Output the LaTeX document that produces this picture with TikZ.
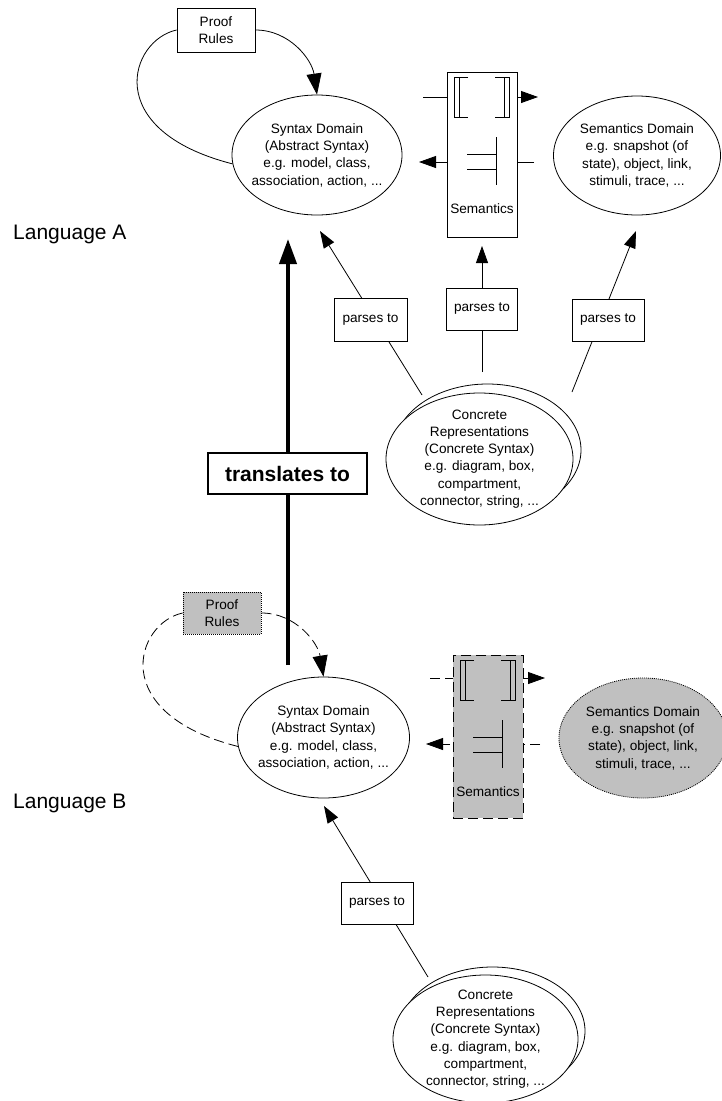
\documentclass[tikz,border=0pt]{standalone}
\usepackage{fontspec}
\setmainfont{Liberation Sans}
\usetikzlibrary{arrows.meta,shapes.geometric,backgrounds}
\definecolor{shade}{HTML}{C0C0C0}
\begin{document}
\begin{tikzpicture}[x=1pt,y=-1pt,
  every node/.style={font=\fontsize{13.6}{17.3}\selectfont, align=center},
  ln/.style={line width=0.8pt},
  arr/.style={ln,-{Triangle[length=17pt,width=12pt]}},
  parr/.style={ln,-{Triangle[length=21pt,width=15pt]}},
  tarr/.style={line width=4pt,-{Triangle[length=25pt,width=17pt]}},
  lbox/.style={draw, line width=0.8pt, fill=white, inner sep=0pt},
  ell/.style={draw, ellipse, line width=0.8pt, fill=white, inner sep=-8pt},
  dsh/.style={dash pattern=on 10pt off 5pt},
  dtt/.style={dash pattern=on 1pt off 1pt},
  lang/.style={font=\fontsize{21}{24}\selectfont, anchor=base west, inner sep=0pt}
]
\useasboundingbox (0,0) rectangle (721,1101);

% free connector ends
\coordinate (thkS) at (288,665);
\coordinate (thkT) at (288,239);
\coordinate (pA1e) at (422,395);
\coordinate (pA1t) at (320,231);
\coordinate (pA2e) at (482,372);
\coordinate (pA2t) at (482,246);
\coordinate (pA3e) at (572,392);
\coordinate (pA3t) at (636,231);
\coordinate (sAt1) at (423,97);
\coordinate (sAt2) at (538,97);
\coordinate (sAb1) at (534,162);
\coordinate (sAb2) at (419,162);
\coordinate (pBe) at (428,977);
\coordinate (pBt) at (324,806);
\coordinate (sBt1) at (430,678);
\coordinate (sBt2) at (545,678);
\coordinate (sBb1) at (540,744);
\coordinate (sBb2) at (426,744);

% ---------- Language A ----------
\node[lang] (langA) at (13,239.3) {Language A};
\node[lbox, minimum width=78pt, minimum height=44pt] (prA) at (216,30) {Proof\\Rules};
\node[ell, minimum width=170pt, minimum height=120pt] (synA) at (317,155)
  {Syntax Domain\\(Abstract Syntax)\\e.g. model, class,\\association, action, ...};
\node[lbox, minimum width=70pt, minimum height=165pt] (semA) at (482,154.5) {};
\node (semAtxt) at (482,209) {Semantics};
\node[ell, minimum width=167pt, minimum height=119pt] (sdA) at (637,155.5)
  {Semantics Domain\\e.g. snapshot (of\\state), object, link,\\stimuli, trace, ...};
\node[ell, minimum width=187pt, minimum height=132pt] (cAback) at (487.5,450) {};
\node[ell, minimum width=187pt, minimum height=132pt] (cA) at (479.5,459)
  {Concrete\\Representations\\(Concrete Syntax)\\e.g. diagram, box,\\compartment,\\connector, string, ...};
\node[lbox, minimum width=73pt, minimum height=43pt] (pA1) at (370.5,320) {parses to};
\node[lbox, minimum width=71pt, minimum height=42pt] (pA2) at (482,309) {parses to};
\node[lbox, minimum width=72pt, minimum height=42pt] (pA3) at (608,320) {parses to};

\node[lbox, line width=1.5pt, minimum width=159pt, minimum height=41pt,
  font=\fontsize{21}{24}\selectfont\bfseries] (trans) at (287.5,473.5) {translates to};

% semantic brackets and turnstile (A)
\begin{scope}
  \draw[ln] (468,77) -- (454,77) -- (454,117) -- (468,117);
  \draw[ln] (459,77) -- (459,117);
  \draw[ln] (495,77) -- (509,77) -- (509,117) -- (495,117);
  \draw[ln] (504,77) -- (504,117);
  \draw[ln] (496,137) -- (496,185);
  \draw[ln] (467,154) -- (496,154);
  \draw[ln] (467,169) -- (496,169);
\end{scope}

\draw[ln] (prA.west) .. controls (130,40) and (100,130) .. (synA.186);
\draw[parr] (prA.east) .. controls (290,30) and (312,60) .. (synA.north);

% ---------- Language B ----------
\node[lang] (langB) at (13,808) {Language B};
\node[lbox, fill=shade, dtt, minimum width=78pt, minimum height=42pt] (prB) at (222,613) {Proof\\Rules};
\node[ell, minimum width=172pt, minimum height=121pt] (synB) at (323.5,737.5)
  {Syntax Domain\\(Abstract Syntax)\\e.g. model, class,\\association, action, ...};
\node[lbox, fill=shade, dsh, minimum width=70pt, minimum height=163pt] (semB) at (488,736.5) {};
\node (semBtxt) at (488,792) {Semantics};
\node[ell, fill=shade, dtt, minimum width=168pt, minimum height=120pt] (sdB) at (643,738)
  {Semantics Domain\\e.g. snapshot (of\\state), object, link,\\stimuli, trace, ...};
\node[ell, minimum width=185pt, minimum height=128pt] (cBback) at (492.5,1031) {};
\node[ell, minimum width=185pt, minimum height=128pt] (cB) at (485.5,1039)
  {Concrete\\Representations\\(Concrete Syntax)\\e.g. diagram, box,\\compartment,\\connector, string, ...};
\node[lbox, minimum width=72pt, minimum height=42pt] (pB) at (377,903) {parses to};

\begin{scope}[shift={(6,583)}]
  \draw[ln] (468,77) -- (454,77) -- (454,117) -- (468,117);
  \draw[ln] (459,77) -- (459,117);
  \draw[ln] (495,77) -- (509,77) -- (509,117) -- (495,117);
  \draw[ln] (504,77) -- (504,117);
  \draw[ln] (496,137) -- (496,185);
  \draw[ln] (467,154) -- (496,154);
  \draw[ln] (467,169) -- (496,169);
\end{scope}

\draw[ln, dsh] (prB.west) .. controls (136,623) and (106,713) .. (synB.186);
\draw[parr, dsh] (prB.east) .. controls (296,613) and (318,643) .. (synB.north);

% ---------- connectors passing behind boxes ----------
\begin{pgfonlayer}{background}
  \draw[tarr] (thkS) -- (thkT);
  \draw[arr] (pA1e) -- (pA1t);
  \draw[arr] (pA2e) -- (pA2t);
  \draw[arr] (pA3e) -- (pA3t);
  \draw[arr] (sAt1) -- (sAt2);
  \draw[arr] (sAb1) -- (sAb2);
  \draw[arr] (pBe) -- (pBt);
  \draw[arr, dsh] (sBt1) -- (sBt2);
  \draw[arr, dsh] (sBb1) -- (sBb2);
\end{pgfonlayer}
\end{tikzpicture}
\end{document}
